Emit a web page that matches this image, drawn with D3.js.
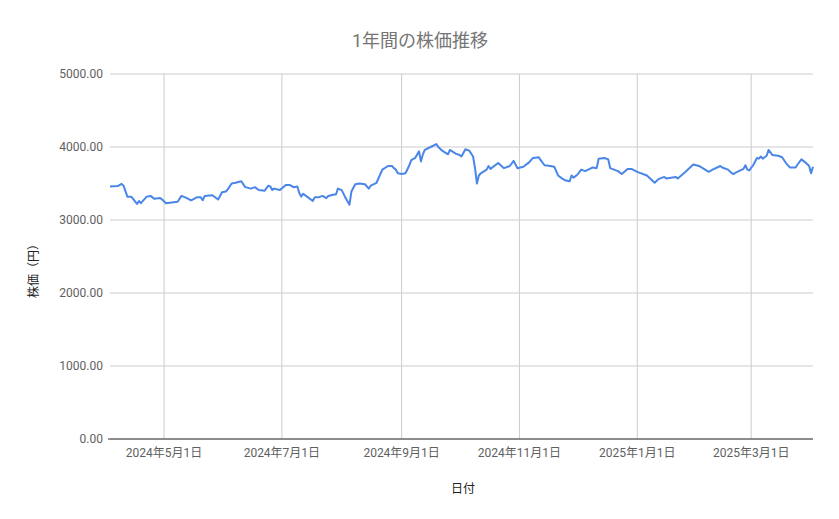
<html>
<head>
    <script src="https://d3js.org/d3.v7.min.js"></script>
</head>
<body style="margin:0">
    <svg id="stock_chart" width="839" height="519"></svg>
</body>
<style>
    text{font-family: Roboto, 'Noto Sans CJK JP', sans-serif}
</style>
<script>

    // 日付 and closing price
    const dates = [
        '2024-04-03','2024-04-07','2024-04-09','2024-04-10','2024-04-12','2024-04-14','2024-04-17','2024-04-18',
        '2024-04-19','2024-04-22','2024-04-24','2024-04-26','2024-04-29','2024-04-30','2024-05-02','2024-05-05',
        '2024-05-08','2024-05-10','2024-05-12','2024-05-15','2024-05-18','2024-05-20','2024-05-21','2024-05-22',
        '2024-05-26','2024-05-29','2024-05-31','2024-06-02','2024-06-03','2024-06-05','2024-06-07','2024-06-10',
        '2024-06-12','2024-06-15','2024-06-17','2024-06-19','2024-06-22','2024-06-24','2024-06-25','2024-06-26',
        '2024-06-27','2024-06-30','2024-07-03','2024-07-05','2024-07-07','2024-07-09','2024-07-10','2024-07-11',
        '2024-07-12','2024-07-14','2024-07-17','2024-07-18','2024-07-20','2024-07-22','2024-07-24','2024-07-25',
        '2024-07-28','2024-07-29','2024-07-30','2024-08-01','2024-08-03','2024-08-05','2024-08-06','2024-08-08',
        '2024-08-10','2024-08-13','2024-08-15','2024-08-16','2024-08-19','2024-08-22','2024-08-25','2024-08-27',
        '2024-08-28','2024-08-29','2024-08-30','2024-09-01','2024-09-03','2024-09-05','2024-09-06','2024-09-08',
        '2024-09-10','2024-09-11','2024-09-12','2024-09-13','2024-09-16','2024-09-19','2024-09-20','2024-09-22',
        '2024-09-25','2024-09-26','2024-09-29','2024-10-01','2024-10-02','2024-10-04','2024-10-06','2024-10-08',
        '2024-10-09','2024-10-10','2024-10-11','2024-10-12','2024-10-15','2024-10-16','2024-10-17','2024-10-21',
        '2024-10-24','2024-10-27','2024-10-29','2024-10-31','2024-11-03','2024-11-06','2024-11-08','2024-11-11',
        '2024-11-12','2024-11-14','2024-11-17','2024-11-19','2024-11-21','2024-11-23','2024-11-25','2024-11-27',
        '2024-11-28','2024-11-29','2024-12-01','2024-12-03','2024-12-05','2024-12-09','2024-12-11','2024-12-12',
        '2024-12-15','2024-12-17','2024-12-18','2024-12-22','2024-12-24','2024-12-27','2024-12-29','2025-01-01',
        '2025-01-06','2025-01-10','2025-01-12','2025-01-15','2025-01-16','2025-01-21','2025-01-22','2025-01-26',
        '2025-01-30','2025-02-02','2025-02-07','2025-02-09','2025-02-13','2025-02-14','2025-02-17','2025-02-19',
        '2025-02-20','2025-02-21','2025-02-25','2025-02-26','2025-02-27','2025-02-28','2025-03-02','2025-03-04',
        '2025-03-05','2025-03-06','2025-03-07','2025-03-09','2025-03-10','2025-03-12','2025-03-15','2025-03-17',
        '2025-03-19','2025-03-21','2025-03-24','2025-03-25','2025-03-27','2025-03-29','2025-03-31','2025-04-01',
        '2025-04-02'
    ]
    const prices = [
        3460,3465,3495,3470,3320,3320,3220,3260,
        3230,3320,3330,3290,3300,3280,3230,3240,
        3250,3330,3310,3270,3310,3310,3270,3330,
        3340,3280,3380,3390,3420,3500,3510,3530,
        3450,3430,3450,3410,3400,3470,3460,3410,
        3430,3410,3480,3480,3450,3460,3370,3320,
        3360,3320,3260,3310,3310,3330,3300,3330,
        3350,3350,3430,3410,3300,3210,3390,3490,
        3500,3490,3430,3470,3510,3690,3740,3740,
        3710,3690,3640,3630,3640,3750,3820,3850,
        3940,3800,3900,3960,4000,4040,4000,3950,
        3900,3960,3910,3890,3870,3970,3950,3870,
        3710,3500,3610,3640,3690,3740,3700,3780,
        3710,3740,3810,3710,3730,3790,3850,3860,
        3820,3750,3740,3730,3610,3570,3540,3530,
        3610,3580,3620,3690,3670,3720,3710,3840,
        3850,3830,3710,3670,3630,3700,3700,3660,
        3610,3510,3560,3590,3570,3590,3570,3660,
        3760,3740,3660,3690,3740,3720,3690,3640,
        3630,3650,3700,3750,3690,3680,3750,3850,
        3840,3870,3840,3880,3960,3890,3880,3860,
        3780,3720,3720,3760,3830,3790,3740,3640,
        3730
    ]
    const yTicks = [0, 1000, 2000, 3000, 4000, 5000]
    const xTicks = ['2024-05-01','2024-07-01','2024-09-01','2024-11-01','2025-01-01','2025-03-01']

    let svg = d3.select('svg#stock_chart');
    const margin = {top:74, right:26, bottom:80, left:110}
    const width = +svg.attr('width')
    const height = +svg.attr('height')

    const parse = d3.timeParse('%Y-%m-%d')
    let series = dates.map((d,i)=>({date:parse(d), price:prices[i]}))

    let xScale = d3.scaleTime()
                   .domain(d3.extent(series, d=>d.date))
                   .range([margin.left, width-margin.right])
    let yScale = d3.scaleLinear()
                   .domain([0, 5000])
                   .range([height-margin.bottom, margin.top])

    // gridlines
    svg.append('g').selectAll('line.hgrid')
       .data(yTicks)
       .join('line')
       .attr('class','hgrid')
       .attr('x1', margin.left).attr('x2', width-margin.right)
       .attr('y1', d=>yScale(d)).attr('y2', d=>yScale(d))
       .attr('stroke','#cccccc')

    svg.append('g').selectAll('line.vgrid')
       .data(xTicks.map(parse))
       .join('line')
       .attr('class','vgrid')
       .attr('x1', d=>xScale(d)).attr('x2', d=>xScale(d))
       .attr('y1', margin.top).attr('y2', height-margin.bottom)
       .attr('stroke','#cccccc')

    // baseline
    svg.append('line')
       .attr('x1', margin.left-2).attr('x2', width-margin.right)
       .attr('y1', yScale(0)).attr('y2', yScale(0))
       .attr('stroke','#333333')

    // y labels
    svg.append('g').selectAll('text.ylab')
       .data(yTicks)
       .join('text')
       .attr('class','ylab')
       .attr('x', margin.left-7)
       .attr('y', d=>yScale(d))
       .attr('dy','0.35em')
       .attr('text-anchor','end')
       .attr('font-size','12px')
       .attr('fill','#5f5f5f')
       .text(d=>d3.format('.2f')(d))

    // x labels
    const fmt = d3.timeFormat('%Y年%-m月%-d日')
    svg.append('g').selectAll('text.xlab')
       .data(xTicks.map(parse))
       .join('text')
       .attr('class','xlab')
       .attr('x', d=>xScale(d))
       .attr('y', yScale(0)+18)
       .attr('text-anchor','middle')
       .attr('font-size','12px')
       .attr('fill','#5f5f5f')
       .text(d=>fmt(d))

    let line = d3.line()
                 .x(d=>xScale(d.date))
                 .y(d=>yScale(d.price))

    svg.append('path')
       .datum(series)
       .attr('d', line)
       .attr('fill','none')
       .attr('stroke','#4a86e8')
       .attr('stroke-width', 2)
       .attr('stroke-linejoin','round')

    // titles
    svg.append('text')
       .text('1年間の株価推移')
       .attr('x', 420).attr('y', 47)
       .attr('text-anchor','middle')
       .attr('font-size','18px')
       .attr('fill','#757575')

    svg.append('text')
       .text('日付')
       .attr('x', 463).attr('y', 493)
       .attr('text-anchor','middle')
       .attr('font-size','12px')
       .attr('fill','#222222')

    svg.append('text')
       .text('株価（円）')
       .attr('transform','translate(38,268) rotate(-90)')
       .attr('text-anchor','middle')
       .attr('font-size','12px')
       .attr('fill','#222222')

</script>
</html>
